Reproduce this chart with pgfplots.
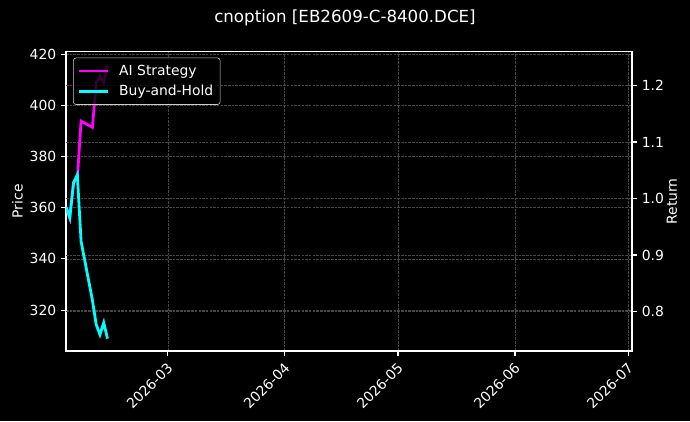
\documentclass[border=0pt]{standalone}
\usepackage{pgfplots}
\pgfplotsset{compat=1.18}
\usepackage{fontspec}
\setmainfont{DejaVu Sans}

\definecolor{mplmagenta}{RGB}{255,0,255}
\definecolor{mplcyan}{RGB}{0,255,255}

% day = days since 2026-02-01
\pgfplotstableread{
day ai bh
1  0.985 0.985
2  0.966 0.966
3  1.028 1.028
4  1.035 1.042
5  1.137 0.924
8  1.126 0.820
9  1.205 0.777
10 1.217 0.759
11 1.205 0.780
12 1.236 0.752
}\returns

\pgfplotsset{
  darkax/.style={
    scale only axis, width=407.5pt, height=215.5pt,
    at={(47.52pt,50.4pt)}, anchor=south west,
    xmin=1, xmax=151,
    axis line style={white, line width=0.8pt},
    tick style={white, line width=0.8pt},
    major tick length=3.5pt,
    tick align=outside,
    ticklabel style={text=white, font=\fontsize{10}{12}\selectfont},
    /pgf/number format/assume math mode=true,
    grid style={white!28!black, line width=0.5pt, dash pattern=on 1.85pt off 0.8pt},
  },
}

\begin{document}
\begin{tikzpicture}[x=1pt,y=1pt]
\path[use as bounding box, fill=black] (0,0) rectangle (496.8,303.12);

\begin{axis}[darkax,
  ymin=304, ymax=421,
  ytick={320,340,...,420},
  xtick={28,59,89,120,150},
  xticklabels={2026-03,2026-04,2026-05,2026-06,2026-07},
  xticklabel style={rotate=45, anchor=north east, inner sep=2pt, xshift=-1.5pt},
  xtick pos=bottom, ytick pos=left,
  xmajorgrids, ymajorgrids,
  ylabel={Price},
  ylabel style={at={(axis description cs:-0.086,0.5)}, rotate=0, anchor=center, text=white, font=\fontsize{10}{12}\selectfont},
]
\end{axis}

\begin{axis}[darkax,
  axis x line=none, axis y line*=right,
  ymin=0.730, ymax=1.260,
  ytick={0.8,0.9,1.0,1.1,1.2},
  yticklabel style={/pgf/number format/.cd, fixed, fixed zerofill, precision=1},
  ymajorgrids,
  ylabel={Return},
  ylabel style={at={(axis description cs:1.0707,0.5)}, rotate=0, anchor=center, text=white, font=\fontsize{10}{12}\selectfont},
  legend style={at={(0.0125,0.98)}, anchor=north west, fill=black, fill opacity=0.8, text opacity=1,
    draw=white!80!black, rounded corners=2pt, text=white, font=\fontsize{10}{12}\selectfont,
    inner xsep=3pt, inner ysep=3pt, row sep=1.5pt,
    /tikz/every odd column/.append style={column sep=5pt}},
  legend cell align=left,
  legend image code/.code={\draw[#1, line width=2pt, draw opacity=1] (0pt,0pt) -- (21pt,0pt);},
]
\addplot[mplmagenta, line width=2pt] table[x=day, y=ai] {\returns};
\addlegendentry{AI Strategy}
\addplot[mplcyan, line width=2pt] table[x=day, y=bh] {\returns};
\addlegendentry{Buy-and-Hold}
\end{axis}

\node[text=white, font=\fontsize{12}{14}\selectfont] at (248.4,290.2) {cnoption [EB2609-C-8400.DCE]};
\end{tikzpicture}
\end{document}
